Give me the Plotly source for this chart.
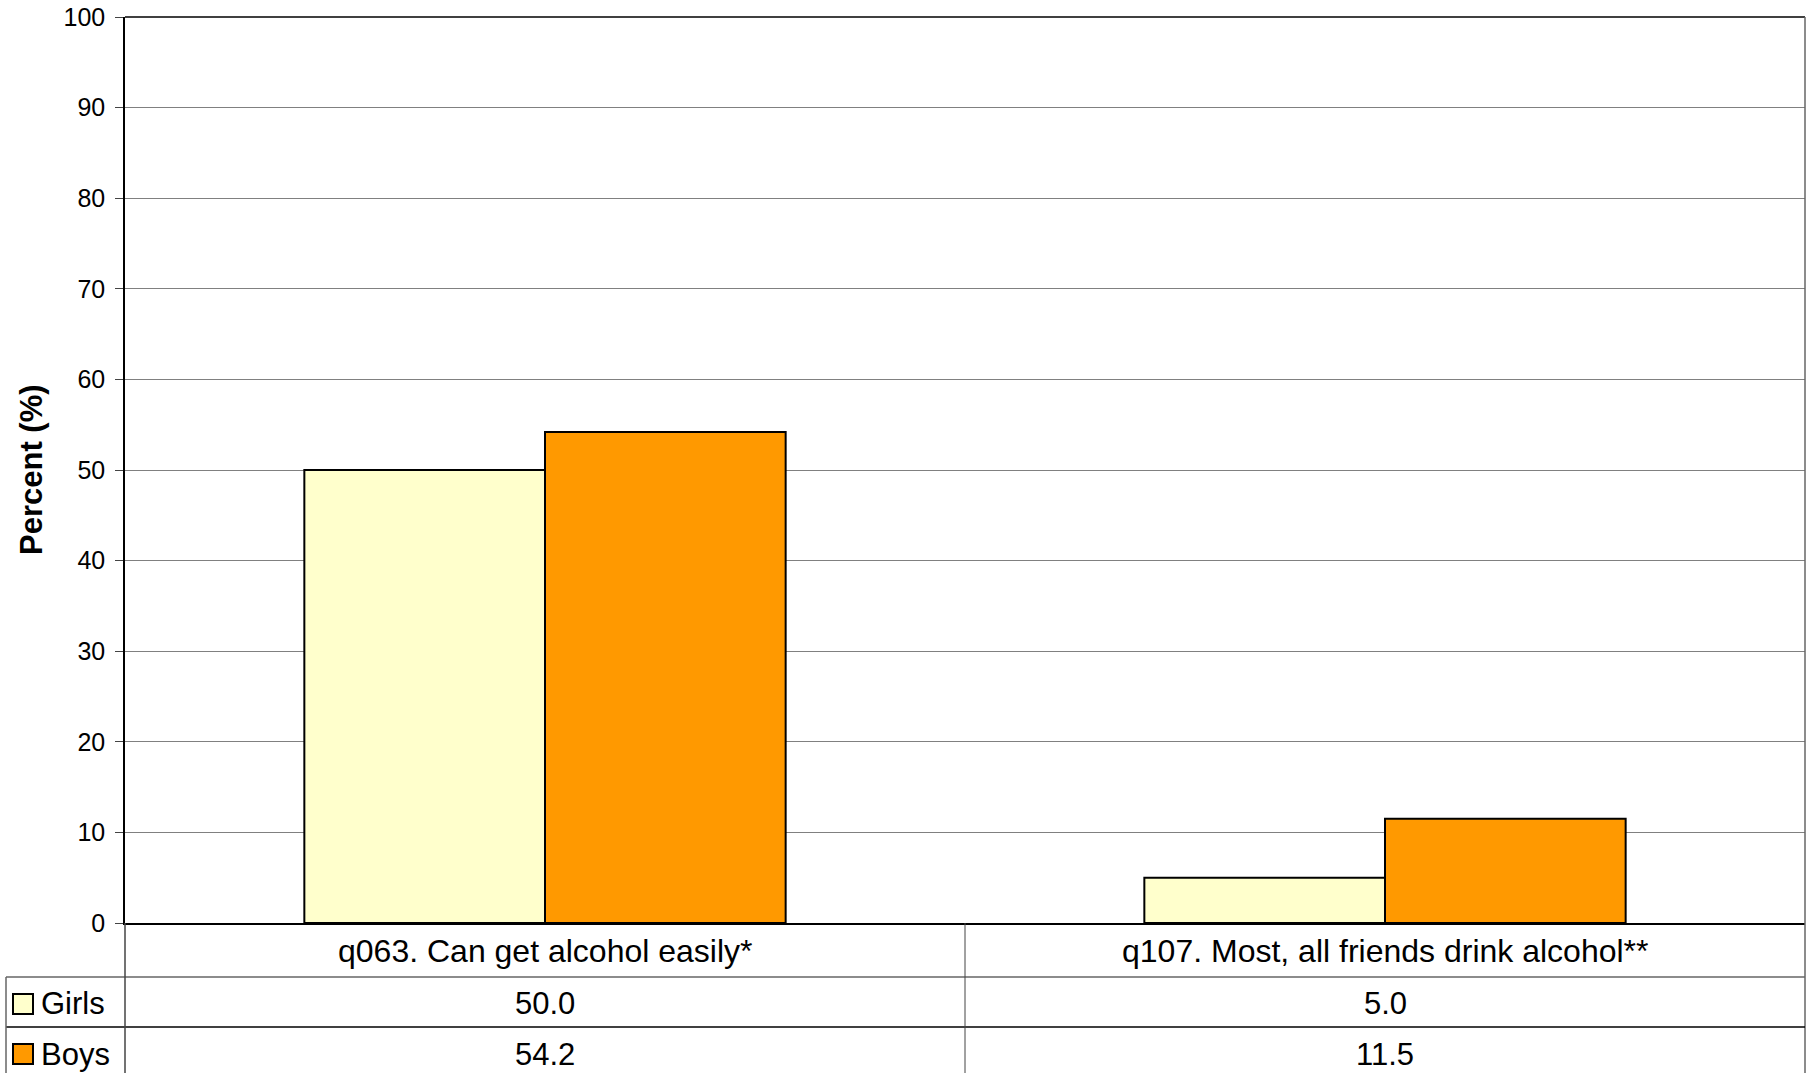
import plotly.graph_objects as go

categories = ["q063. Can get alcohol easily*", "q107. Most, all friends drink alcohol**"]
series_names = ["Girls", "Boys"]
girls = [50.0, 5.0]
boys = [54.2, 11.5]
series_values = [girls, boys]
series_colors = ["#FFFFCC", "#FF9900"]
y_ticks = [0, 10, 20, 30, 40, 50, 60, 70, 80, 90, 100]

W, H = 1813, 1073
L, R, T, B = 125, 8, 17, 150
PW = W - L - R
PH = H - T - B
FONT = "Liberation Sans, Arial, sans-serif"


def px_x(p):
    return (p - L) / PW


def px_y(p):
    return (H - B - p) / PH


fig = go.Figure()
for name, vals, col in zip(series_names, series_values, series_colors):
    fig.add_trace(go.Bar(
        x=categories, y=vals, name=name,
        marker=dict(color=col, line=dict(color="black", width=2)),
        showlegend=False,
    ))

shapes = []
# frame top and right
shapes.append(dict(type="line", xref="paper", yref="paper", x0=0, x1=1, y0=1, y1=1,
                   line=dict(color="black", width=1.5)))
shapes.append(dict(type="line", xref="paper", yref="paper", x0=1, x1=1, y0=1, y1=px_y(H + 5),
                   line=dict(color="#666666", width=1.5)))
# table lines
row_lines = [(977, "#666666"), (1027, "black")]
for yp, c in row_lines:
    shapes.append(dict(type="line", xref="paper", yref="paper", x0=px_x(6), x1=1,
                       y0=px_y(yp), y1=px_y(yp), line=dict(color=c, width=1.5)))
shapes.append(dict(type="line", xref="paper", yref="paper", x0=px_x(6), x1=px_x(6),
                   y0=px_y(977), y1=px_y(H + 5), line=dict(color="#666666", width=1.5)))
shapes.append(dict(type="line", xref="paper", yref="paper", x0=0, x1=0,
                   y0=0, y1=px_y(H + 5), line=dict(color="#444444", width=1.5)))
shapes.append(dict(type="line", xref="paper", yref="paper", x0=0.5, x1=0.5,
                   y0=0, y1=px_y(H + 5), line=dict(color="#444444", width=1)))

annotations = []
row_centers = [1004, 1054]
n = len(categories)
for i, cat in enumerate(categories):
    xc = (i + 0.5) / n
    annotations.append(dict(x=xc, y=px_y(951), xref="paper", yref="paper", text=cat,
                            showarrow=False, xanchor="center", yanchor="middle",
                            font=dict(family=FONT, size=32, color="black")))
    for j, vals in enumerate(series_values):
        annotations.append(dict(x=xc, y=px_y(row_centers[j]), xref="paper", yref="paper",
                                text=f"{vals[i]:.1f}", showarrow=False,
                                xanchor="center", yanchor="middle",
                                font=dict(family=FONT, size=31, color="black")))

for j, (name, col) in enumerate(zip(series_names, series_colors)):
    yc = row_centers[j]
    shapes.append(dict(type="rect", xref="paper", yref="paper",
                       x0=px_x(13), x1=px_x(33), y0=px_y(yc - 10), y1=px_y(yc + 10),
                       fillcolor=col, line=dict(color="black", width=2)))
    annotations.append(dict(x=px_x(39), y=px_y(yc), xref="paper", yref="paper", text=name,
                            showarrow=False, xanchor="left", yanchor="middle",
                            font=dict(family=FONT, size=31, color="black")))

# y axis title
annotations.append(dict(x=px_x(31), y=0.5, xref="paper", yref="paper", text="<b>Percent (%)</b>",
                        showarrow=False, textangle=-90, xanchor="center", yanchor="middle",
                        font=dict(family=FONT, size=31, color="black")))

fig.update_layout(
    width=W, height=H, autosize=False,
    margin=dict(l=L, r=R, t=T, b=B, pad=0, autoexpand=False),
    paper_bgcolor="white", plot_bgcolor="white",
    barmode="group", bargap=0.427, bargroupgap=0,
    shapes=shapes, annotations=annotations,
    font=dict(family=FONT, color="black"),
)
fig.update_xaxes(showticklabels=False, showgrid=False, showline=True, automargin=False,
                 linecolor="black", linewidth=1.5, ticks="", zeroline=False)
fig.update_yaxes(range=[0, 100], tickvals=y_ticks, ticktext=[str(t) for t in y_ticks],
                 automargin=False, ticklabeloverflow="allow",
                 showgrid=True, gridcolor="#808080", gridwidth=1,
                 showline=True, linecolor="black", linewidth=1.5,
                 ticks="outside", ticklen=8, tickcolor="#444444", tickwidth=1,
                 ticklabelstandoff=5,
                 tickfont=dict(family=FONT, size=25, color="black"),
                 zeroline=False)

fig.write_html("out.html", config={"displayModeBar": False})

# remove the browser's default page margin so the figure sits at the window's top-left
with open("out.html", "r", encoding="utf-8") as f:
    html = f.read()
html = html.replace("<head>", "<head><style>html,body{margin:0;padding:0;overflow:hidden;}</style>", 1)
with open("out.html", "w", encoding="utf-8") as f:
    f.write(html)
